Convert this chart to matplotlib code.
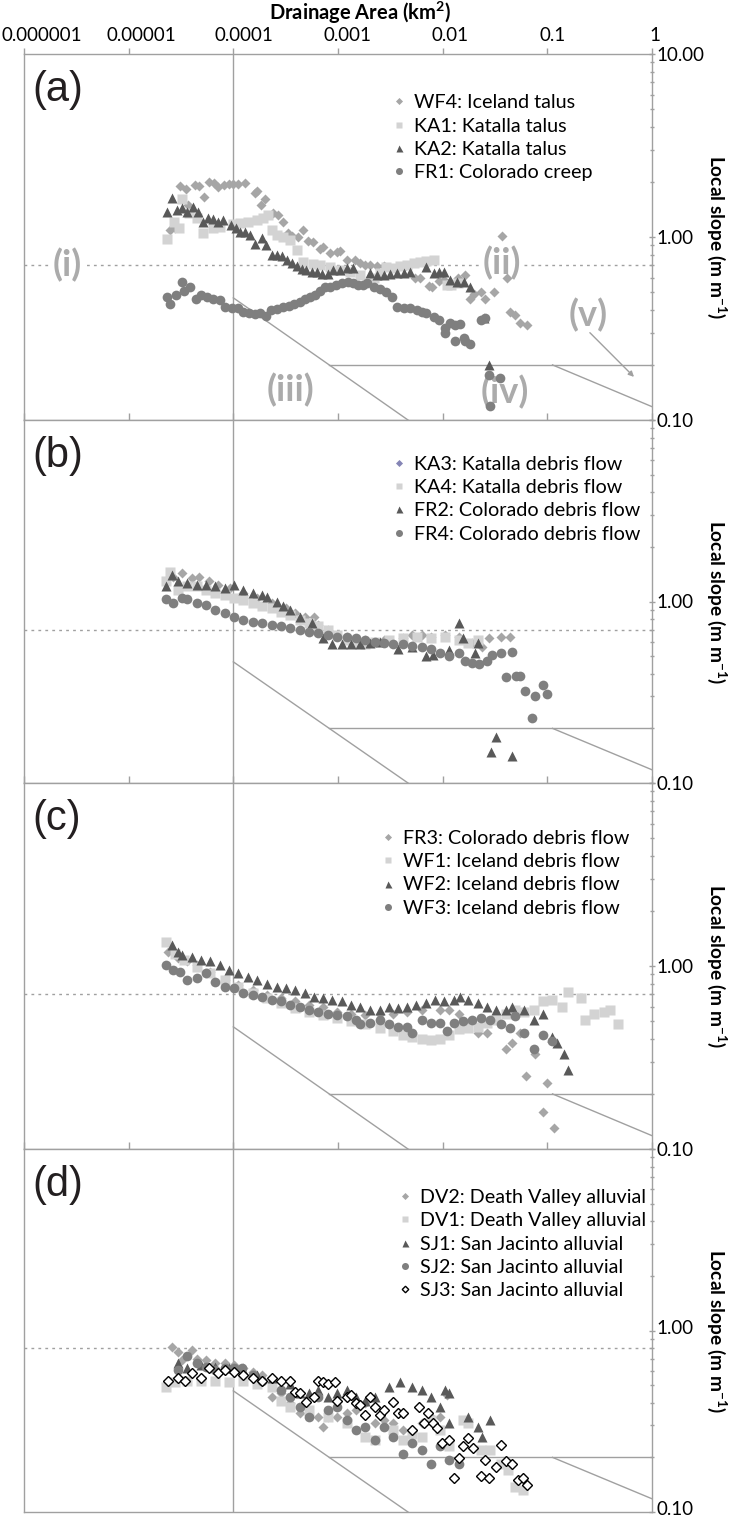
import matplotlib
matplotlib.use('Agg')
import matplotlib.pyplot as plt
from matplotlib.lines import Line2D
from matplotlib.transforms import ScaledTranslation
from matplotlib.ticker import LogLocator, NullFormatter, FixedLocator, FixedFormatter
import numpy as np

plt.rcParams['mathtext.fontset'] = 'custom'
plt.rcParams['mathtext.rm'] = 'Lato'
plt.rcParams['mathtext.bf'] = 'Lato:bold'
plt.rcParams['font.family'] = ['Lato', 'DejaVu Sans']

# ---------------- data: panel (a) ----------------
wf4_area = [2.48e-5, 2.77e-5, 3.09e-5, 3.5e-5, 3.69e-5, 4.3e-5, 4.7e-5, 5.2e-5, 5.85e-5, 6.6e-5, 7.2e-5, 8.1e-5, 9.0e-5, 9.9e-5, 1.1e-4, 1.29e-4, 1.61e-4, 1.7e-4, 1.84e-4, 2.0e-4, 2.4e-4, 2.65e-4, 2.98e-4, 3.33e-4, 3.6e-4, 4.15e-4, 4.6e-4, 5.2e-4, 5.8e-4, 6.7e-4, 7.2e-4, 8.4e-4, 9.8e-4, 1.04e-3, 1.22e-3, 1.45e-3, 1.62e-3, 1.81e-3, 2.02e-3, 2.37e-3, 2.76e-3, 3.14e-3, 3.67e-3, 4.3e-3, 5.4e-3, 6.1e-3, 7.4e-3, 7.9e-3, 9.2e-3, 1.04e-2, 1.17e-2, 1.4e-2, 1.64e-2, 1.83e-2, 2.0e-2, 2.3e-2, 2.56e-2, 3.1e-2, 3.65e-2, 4.1e-2, 4.4e-2, 4.9e-2, 5.5e-2, 6.4e-2]
wf4_slope = [1.09, 1.12, 1.90, 1.82, 1.50, 1.92, 1.90, 1.65, 2.0, 1.97, 1.88, 1.92, 1.95, 1.95, 1.95, 1.97, 1.74, 1.78, 1.50, 1.61, 1.35, 1.32, 1.21, 1.05, 1.01, 1.0, 1.09, 0.95, 0.94, 0.86, 0.88, 0.82, 0.83, 0.84, 0.75, 0.75, 0.72, 0.70, 0.70, 0.69, 0.69, 0.68, 0.68, 0.685, 0.60, 0.60, 0.54, 0.53, 0.575, 0.58, 0.57, 0.60, 0.62, 0.46, 0.49, 0.50, 0.46, 0.50, 1.01, 0.60, 0.39, 0.375, 0.34, 0.33]

ka1_area = [2.32e-5, 2.7e-5, 3.0e-5, 3.23e-5, 3.8e-5, 4.5e-5, 5.13e-5, 6.4e-5, 7.4e-5, 9.9e-5, 1.16e-4, 1.38e-4, 1.7e-4, 1.93e-4, 2.15e-4, 2.34e-4, 2.6e-4, 2.98e-4, 3.48e-4, 4.06e-4, 4.6e-4, 5.8e-4, 6.7e-4, 8.4e-4, 1.04e-3, 1.3e-3, 1.62e-3, 2.2e-3, 2.5e-3, 2.9e-3, 3.4e-3, 3.94e-3, 4.56e-3, 5.3e-3, 6.1e-3, 7.0e-3, 8.3e-3, 1.1e-2, 1.2e-2, 1.4e-2]
ka1_slope = [0.975, 1.21, 1.12, 1.61, 1.35, 1.27, 1.05, 1.12, 1.13, 1.18, 1.19, 1.21, 1.24, 1.27, 1.32, 1.09, 1.025, 1.0, 0.96, 0.85, 0.73, 0.71, 0.70, 0.685, 0.66, 0.64, 0.62, 0.60, 0.635, 0.685, 0.68, 0.69, 0.70, 0.72, 0.73, 0.74, 0.75, 0.55, 0.55, 0.56]

ka2_area = [2.32e-5, 2.6e-5, 2.9e-5, 3.23e-5, 3.6e-5, 4.12e-5, 4.6e-5, 5.13e-5, 5.7e-5, 6.4e-5, 7.1e-5, 8.0e-5, 9.4e-5, 1.05e-4, 1.16e-4, 1.29e-4, 1.44e-4, 1.61e-4, 1.88e-4, 2.05e-4, 2.34e-4, 2.6e-4, 2.9e-4, 3.25e-4, 3.6e-4, 4.06e-4, 4.5e-4, 5.0e-4, 5.6e-4, 6.3e-4, 7.0e-4, 8.0e-4, 8.9e-4, 1.04e-3, 1.22e-3, 1.39e-3, 2.02e-3, 2.37e-3, 2.76e-3, 3.14e-3, 3.67e-3, 4.3e-3, 4.9e-3, 7.0e-3, 8.3e-3, 9.2e-3, 1.04e-2, 1.17e-2, 1.36e-2, 1.6e-2, 1.83e-2, 2.5e-2, 2.8e-2]
ka2_slope = [1.37, 1.63, 1.40, 1.44, 1.37, 1.46, 1.37, 1.21, 1.27, 1.25, 1.21, 1.24, 1.16, 1.12, 1.06, 1.06, 1.025, 0.92, 0.99, 0.90, 0.80, 0.80, 0.79, 0.75, 0.72, 0.69, 0.67, 0.66, 0.64, 0.645, 0.63, 0.63, 0.66, 0.66, 0.68, 0.68, 0.635, 0.62, 0.62, 0.63, 0.635, 0.635, 0.645, 0.685, 0.635, 0.645, 0.645, 0.58, 0.57, 0.57, 0.53, 0.36, 0.20]

fr1_area = [2.3e-5, 2.48e-5, 2.85e-5, 3.23e-5, 3.4e-5, 3.85e-5, 4.4e-5, 4.9e-5, 5.6e-5, 6.4e-5, 7.4e-5, 8.3e-5, 9.7e-5, 1.1e-4, 1.23e-4, 1.41e-4, 1.61e-4, 1.8e-4, 2.05e-4, 2.3e-4, 2.6e-4, 2.98e-4, 3.4e-4, 3.8e-4, 4.3e-4, 4.8e-4, 5.4e-4, 6.0e-4, 6.7e-4, 7.5e-4, 8.4e-4, 9.5e-4, 1.09e-3, 1.24e-3, 1.39e-3, 1.55e-3, 1.73e-3, 1.9e-3, 2.2e-3, 2.5e-3, 2.9e-3, 3.25e-3, 3.67e-3, 4.3e-3, 4.9e-3, 5.7e-3, 6.3e-3, 7.0e-3, 8.3e-3, 9.2e-3, 1.06e-2, 1.17e-2, 1.06e-2, 1.3e-2, 1.46e-2, 1.6e-2, 1.3e-2, 1.64e-2, 1.83e-2, 2.3e-2, 2.56e-2, 2.8e-2, 3.5e-2, 2.85e-2]
fr1_slope = [0.47, 0.43, 0.48, 0.57, 0.51, 0.53, 0.46, 0.48, 0.47, 0.46, 0.45, 0.415, 0.41, 0.41, 0.39, 0.385, 0.38, 0.385, 0.37, 0.40, 0.405, 0.415, 0.42, 0.43, 0.44, 0.46, 0.47, 0.48, 0.51, 0.53, 0.53, 0.55, 0.56, 0.57, 0.56, 0.55, 0.55, 0.56, 0.53, 0.52, 0.50, 0.47, 0.415, 0.41, 0.41, 0.40, 0.39, 0.385, 0.365, 0.35, 0.32, 0.34, 0.30, 0.33, 0.335, 0.28, 0.27, 0.27, 0.26, 0.35, 0.36, 0.176, 0.17, 0.12]

# ---------------- data: panel (b) ----------------
ka3_area = [2.67e-5, 3.2e-5, 4.0e-5, 4.7e-5, 5.8e-5, 7.1e-5, 9.2e-5, 1.25e-4, 1.7e-4, 2.32e-4, 3.2e-4, 3.9e-4, 4.8e-4, 5.9e-4, 6.5e-4, 8.0e-4, 1.21e-3, 1.82e-3, 2.75e-3, 4.16e-3, 5.1e-3, 6.3e-3, 7.7e-3, 1.05e-2, 1.43e-2, 1.9e-2, 2.35e-2, 2.75e-2, 3.6e-2, 4.4e-2]
ka3_slope = [1.37, 1.43, 1.34, 1.37, 1.29, 1.23, 1.18, 1.11, 1.04, 0.98, 0.92, 0.86, 0.82, 0.82, 0.74, 0.70, 0.64, 0.61, 0.61, 0.63, 0.65, 0.65, 0.64, 0.65, 0.64, 0.59, 0.56, 0.63, 0.64, 0.64]

ka4_area = [2.29e-5, 2.5e-5, 2.96e-5, 3.64e-5, 4.47e-5, 5.5e-5, 6.75e-5, 8.3e-5, 1.02e-4, 1.25e-4, 1.54e-4, 1.89e-4, 2.32e-4, 2.86e-4, 3.51e-4, 4.32e-4, 5.3e-4, 6.5e-4, 8.0e-4, 9.8e-4, 1.21e-3, 1.48e-3, 1.82e-3, 2.24e-3, 3.05e-3, 4.16e-3, 5.7e-3, 7.7e-3, 1.05e-2, 1.43e-2, 1.76e-2, 2.16e-2]
ka4_slope = [1.29, 1.46, 1.16, 1.21, 1.21, 1.16, 1.11, 1.09, 1.04, 1.02, 0.98, 0.94, 0.92, 0.88, 0.84, 0.79, 0.76, 0.73, 0.70, 0.65, 0.61, 0.59, 0.58, 0.60, 0.61, 0.63, 0.64, 0.63, 0.64, 0.61, 0.59, 0.61]

fr2_area = [2.29e-5, 2.6e-5, 2.96e-5, 3.64e-5, 4.47e-5, 5.5e-5, 6.75e-5, 8.3e-5, 1.02e-4, 1.25e-4, 1.54e-4, 1.89e-4, 2.1e-4, 2.6e-4, 3.0e-4, 3.51e-4, 4.32e-4, 5.6e-4, 7.2e-4, 8.8e-4, 1.09e-3, 1.33e-3, 1.64e-3, 2.0e-3, 2.5e-3, 3.75e-3, 5.1e-3, 6.9e-3, 8.1e-3, 1.16e-2, 1.43e-2, 1.58e-2, 2.05e-2, 2.16e-2, 2.9e-2, 3.26e-2, 4.6e-2]
fr2_slope = [1.21, 1.40, 1.29, 1.26, 1.23, 1.23, 1.21, 1.18, 1.23, 1.16, 1.11, 1.09, 1.06, 1.0, 0.94, 0.90, 0.82, 0.76, 0.63, 0.58, 0.58, 0.58, 0.58, 0.59, 0.60, 0.55, 0.56, 0.50, 0.51, 0.54, 0.76, 0.63, 0.52, 0.59, 0.149, 0.18, 0.14]

fr4_area = [2.29e-5, 2.67e-5, 3.2e-5, 3.64e-5, 4.47e-5, 5.5e-5, 6.75e-5, 8.3e-5, 1.02e-4, 1.25e-4, 1.54e-4, 1.89e-4, 2.32e-4, 2.86e-4, 3.51e-4, 4.32e-4, 5.3e-4, 6.5e-4, 8.0e-4, 9.8e-4, 1.21e-3, 1.48e-3, 1.82e-3, 2.24e-3, 2.75e-3, 3.38e-3, 4.16e-3, 5.1e-3, 6.3e-3, 7.7e-3, 9.5e-3, 1.16e-2, 1.43e-2, 1.65e-2, 1.9e-2, 2.2e-2, 2.65e-2, 2.95e-2, 3.6e-2, 4.6e-2, 4.0e-2, 5.0e-2, 5.5e-2, 6.1e-2, 7.7e-2, 9.1e-2, 1.0e-1, 7.2e-2]
fr4_slope = [1.03, 0.98, 1.04, 1.03, 0.98, 0.96, 0.90, 0.86, 0.82, 0.79, 0.77, 0.76, 0.74, 0.73, 0.71, 0.70, 0.68, 0.67, 0.65, 0.64, 0.64, 0.63, 0.61, 0.60, 0.59, 0.585, 0.58, 0.57, 0.56, 0.55, 0.52, 0.50, 0.52, 0.47, 0.46, 0.45, 0.47, 0.51, 0.52, 0.53, 0.385, 0.39, 0.39, 0.32, 0.30, 0.347, 0.31, 0.227]

# ---------------- data: panel (c) ----------------
fr3_area = [2.4e-5, 2.96e-5, 3.64e-5, 4.47e-5, 6.0e-5, 8.3e-5, 1.12e-4, 1.54e-4, 2.1e-4, 2.86e-4, 3.9e-4, 5.3e-4, 7.2e-4, 9.8e-4, 1.33e-3, 1.82e-3, 2.5e-3, 3.38e-3, 4.6e-3, 6.3e-3, 9.5e-3, 1.16e-2, 1.43e-2, 1.76e-2, 2.16e-2, 2.65e-2, 4.0e-2, 4.6e-2, 5.5e-2, 7.7e-2, 6.3e-2, 9.9e-2, 9.1e-2, 0.117]
fr3_slope = [1.20, 1.10, 1.06, 1.01, 0.93, 0.84, 0.79, 0.74, 0.695, 0.665, 0.64, 0.61, 0.60, 0.56, 0.55, 0.54, 0.55, 0.55, 0.56, 0.575, 0.575, 0.575, 0.55, 0.486, 0.43, 0.43, 0.35, 0.38, 0.43, 0.33, 0.25, 0.23, 0.16, 0.13]

wf1_area = [2.29e-5, 2.8e-5, 3.4e-5, 4.47e-5, 6.0e-5, 8.3e-5, 1.12e-4, 1.54e-4, 2.1e-4, 2.86e-4, 3.9e-4, 5.3e-4, 7.2e-4, 9.8e-4, 1.33e-3, 1.82e-3, 2.5e-3, 3.38e-3, 4.16e-3, 5.1e-3, 6.3e-3, 7.7e-3, 9.5e-3, 1.16e-2, 1.43e-2, 1.76e-2, 2.16e-2, 2.65e-2, 3.26e-2, 4.0e-2, 4.9e-2, 6.05e-2, 7.4e-2, 9.1e-2, 0.112, 0.138, 0.158, 0.208, 0.23, 0.28, 0.345, 0.40, 0.475]
wf1_slope = [1.36, 1.17, 1.08, 0.99, 0.91, 0.84, 0.77, 0.71, 0.665, 0.625, 0.59, 0.56, 0.54, 0.52, 0.50, 0.48, 0.46, 0.44, 0.42, 0.41, 0.40, 0.395, 0.40, 0.42, 0.45, 0.46, 0.466, 0.486, 0.51, 0.55, 0.575, 0.56, 0.575, 0.64, 0.65, 0.60, 0.72, 0.665, 0.51, 0.55, 0.56, 0.575, 0.48]

wf2_area = [2.6e-5, 2.96e-5, 3.2e-5, 4.0e-5, 4.9e-5, 6.0e-5, 7.4e-5, 9.1e-5, 1.12e-4, 1.39e-4, 1.7e-4, 2.1e-4, 2.6e-4, 3.2e-4, 3.9e-4, 4.8e-4, 5.9e-4, 7.2e-4, 8.8e-4, 1.09e-3, 1.33e-3, 1.64e-3, 2.0e-3, 2.5e-3, 3.05e-3, 3.75e-3, 4.6e-3, 5.6e-3, 6.9e-3, 8.4e-3, 1.03e-2, 1.27e-2, 1.47e-2, 1.76e-2, 2.16e-2, 2.65e-2, 3.26e-2, 4.0e-2, 4.6e-2, 6.05e-2, 7.4e-2, 9.1e-2, 0.112, 0.123, 0.143, 0.158]
wf2_slope = [1.30, 1.20, 1.15, 1.12, 1.08, 1.06, 1.01, 0.95, 0.91, 0.87, 0.84, 0.80, 0.77, 0.755, 0.74, 0.71, 0.68, 0.665, 0.65, 0.64, 0.61, 0.60, 0.575, 0.575, 0.60, 0.59, 0.60, 0.61, 0.625, 0.65, 0.64, 0.65, 0.68, 0.65, 0.625, 0.60, 0.575, 0.575, 0.60, 0.575, 0.51, 0.55, 0.41, 0.38, 0.33, 0.27]

wf3_area = [2.29e-5, 2.67e-5, 3.1e-5, 3.64e-5, 4.47e-5, 5.5e-5, 6.75e-5, 8.3e-5, 1.02e-4, 1.25e-4, 1.54e-4, 1.89e-4, 2.32e-4, 2.86e-4, 3.51e-4, 4.32e-4, 5.3e-4, 6.5e-4, 8.0e-4, 9.8e-4, 1.21e-3, 1.48e-3, 1.64e-3, 2.0e-3, 2.5e-3, 3.05e-3, 3.75e-3, 4.6e-3, 5.1e-3, 6.3e-3, 7.7e-3, 9.5e-3, 1.1e-2, 1.27e-2, 1.55e-2, 1.9e-2, 2.3e-2, 2.85e-2, 3.6e-2, 4.4e-2, 4.9e-2, 6.05e-2, 7.4e-2, 9.1e-2, 0.112]
wf3_slope = [1.01, 0.95, 0.93, 0.84, 0.86, 0.91, 0.82, 0.77, 0.755, 0.71, 0.695, 0.68, 0.65, 0.64, 0.61, 0.60, 0.575, 0.56, 0.55, 0.54, 0.53, 0.51, 0.48, 0.486, 0.51, 0.48, 0.466, 0.466, 0.43, 0.51, 0.486, 0.486, 0.44, 0.486, 0.50, 0.51, 0.52, 0.51, 0.48, 0.46, 0.53, 0.43, 0.35, 0.42, 0.39]

# ---------------- data: panel (d) ----------------
dv2_area = [2.6e-5, 2.96e-5, 3.2e-5, 4.0e-5, 4.47e-5, 5.5e-5, 6.75e-5, 8.3e-5, 1.02e-4, 1.25e-4, 1.54e-4, 1.89e-4, 2.32e-4, 2.86e-4, 3.51e-4, 4.32e-4, 5.3e-4, 6.5e-4, 7.2e-4, 8.0e-4, 9.8e-4, 1.21e-3, 1.48e-3, 1.82e-3, 2.24e-3, 2.75e-3, 3.38e-3, 4.16e-3, 5.1e-3, 6.3e-3, 7.7e-3, 9.5e-3, 1.1e-2]
dv2_slope = [0.815, 0.765, 0.69, 0.78, 0.70, 0.69, 0.66, 0.66, 0.645, 0.62, 0.594, 0.57, 0.43, 0.45, 0.40, 0.35, 0.343, 0.335, 0.295, 0.335, 0.335, 0.35, 0.365, 0.40, 0.31, 0.32, 0.31, 0.283, 0.283, 0.31, 0.335, 0.335, 0.44]

dv1_area = [2.29e-5, 2.8e-5, 3.64e-5, 4.9e-5, 6.75e-5, 9.1e-5, 1.25e-4, 1.7e-4, 2.32e-4, 2.86e-4, 3.51e-4, 5.3e-4, 8.0e-4, 1.21e-3, 1.82e-3, 2.24e-3, 3.38e-3, 4.16e-3, 5.1e-3, 6.3e-3, 7.7e-3, 9.5e-3, 1.16e-2, 1.58e-2, 1.76e-2, 2.3e-2, 2.85e-2, 3.6e-2, 4.2e-2, 4.9e-2, 5.8e-2]
dv1_slope = [0.49, 0.52, 0.53, 0.53, 0.53, 0.52, 0.53, 0.51, 0.49, 0.41, 0.38, 0.365, 0.335, 0.31, 0.26, 0.25, 0.283, 0.25, 0.27, 0.26, 0.32, 0.283, 0.23, 0.32, 0.31, 0.22, 0.22, 0.185, 0.17, 0.138, 0.133]

sj1_area = [2.96e-5, 3.64e-5, 4.9e-5, 6.75e-5, 9.1e-5, 1.25e-4, 1.7e-4, 2.32e-4, 3.51e-4, 4.32e-4, 5.3e-4, 6.5e-4, 8.0e-4, 9.8e-4, 1.21e-3, 1.48e-3, 1.82e-3, 2.24e-3, 3.05e-3, 3.9e-3, 5.1e-3, 6.3e-3, 7.7e-3, 1.05e-2, 1.16e-2, 9.5e-3, 1.16e-2, 1.76e-2, 2.16e-2, 2.35e-2, 2.85e-2]
sj1_slope = [0.66, 0.62, 0.645, 0.63, 0.62, 0.605, 0.57, 0.545, 0.51, 0.45, 0.45, 0.47, 0.43, 0.45, 0.47, 0.43, 0.41, 0.43, 0.49, 0.52, 0.49, 0.47, 0.43, 0.47, 0.45, 0.38, 0.31, 0.335, 0.295, 0.26, 0.32]

sj2_area = [2.96e-5, 3.64e-5, 4.47e-5, 5.5e-5, 6.75e-5, 8.3e-5, 1.02e-4, 1.2e-4, 1.54e-4, 1.89e-4, 2.86e-4, 3.51e-4, 4.32e-4, 5.3e-4, 6.5e-4, 8.0e-4, 9.8e-4, 1.21e-3, 1.48e-3, 1.82e-3, 2.24e-3, 2.75e-3, 3.38e-3, 4.16e-3, 5.1e-3, 6.3e-3, 7.7e-3, 9.5e-3, 1.16e-2, 1.43e-2]
sj2_slope = [0.605, 0.72, 0.66, 0.63, 0.605, 0.62, 0.62, 0.62, 0.57, 0.53, 0.47, 0.43, 0.38, 0.335, 0.43, 0.365, 0.38, 0.32, 0.283, 0.295, 0.25, 0.295, 0.26, 0.21, 0.24, 0.22, 0.185, 0.23, 0.194, 0.185]

sj3_area = [2.4e-5, 2.96e-5, 3.45e-5, 4.0e-5, 4.9e-5, 5.8e-5, 7.1e-5, 8.3e-5, 1.02e-4, 1.25e-4, 1.54e-4, 1.89e-4, 2.32e-4, 2.86e-4, 3.51e-4, 3.9e-4, 4.32e-4, 5.0e-4, 5.85e-4, 6.5e-4, 7.2e-4, 8.0e-4, 9.3e-4, 9.8e-4, 1.21e-3, 1.33e-3, 1.48e-3, 1.64e-3, 1.82e-3, 2.0e-3, 2.24e-3, 2.5e-3, 2.75e-3, 3.38e-3, 3.75e-3, 4.16e-3, 5.1e-3, 6.0e-3, 6.6e-3, 7.3e-3, 8.1e-3, 8.9e-3, 9.9e-3, 1.16e-2, 1.29e-2, 1.43e-2, 1.58e-2, 1.76e-2, 1.95e-2, 2.3e-2, 2.55e-2, 2.8e-2, 3.26e-2, 3.6e-2, 4.0e-2, 4.6e-2, 5.2e-2, 5.8e-2, 6.4e-2]
sj3_slope = [0.53, 0.545, 0.53, 0.58, 0.545, 0.62, 0.58, 0.605, 0.594, 0.57, 0.545, 0.53, 0.545, 0.53, 0.53, 0.46, 0.45, 0.405, 0.43, 0.53, 0.52, 0.51, 0.52, 0.41, 0.43, 0.44, 0.40, 0.39, 0.343, 0.43, 0.38, 0.343, 0.365, 0.405, 0.35, 0.35, 0.283, 0.38, 0.31, 0.35, 0.31, 0.29, 0.24, 0.25, 0.153, 0.198, 0.23, 0.255, 0.225, 0.157, 0.194, 0.153, 0.178, 0.235, 0.19, 0.185, 0.15, 0.153, 0.141]

x_tick_values = [1e-6, 1e-5, 1e-4, 1e-3, 1e-2, 1e-1, 1]
x_tick_labels = ['0.000001', '0.00001', '0.0001', '0.001', '0.01', '0.1', '1']
y_tick_values = [0.1, 1, 10]
y_tick_labels = ['0.10', '1.00', '10.00']
panel_letters = ['(a)', '(b)', '(c)', '(d)']
threshold_slopes = [0.7, 0.7, 0.7, 0.8]

# ---------------- styles ----------------
GRAY = '#a0a0a0'
LBL = '#ababab'
sty = {
    'dia': dict(marker='D', ms=5.0, color='#a6a6a6', mec='none'),
    'sq': dict(marker='s', ms=6.6, color='#d3d3d3', mec='none'),
    'tri': dict(marker='^', ms=7.0, color='#595959', mec='none'),
    'cir': dict(marker='o', ms=7.0, color='#7f7f7f', mec='none'),
    'odia': dict(marker='D', ms=4.6, mfc='white', mec='black', mew=1.0),
}

panels = [
    [('WF4: Iceland talus', wf4_area, wf4_slope, 'dia'),
     ('KA1: Katalla talus', ka1_area, ka1_slope, 'sq'),
     ('KA2: Katalla talus', ka2_area, ka2_slope, 'tri'),
     ('FR1: Colorado creep', fr1_area, fr1_slope, 'cir')],
    [('KA3: Katalla debris flow', ka3_area, ka3_slope, 'dia'),
     ('KA4: Katalla debris flow', ka4_area, ka4_slope, 'sq'),
     ('FR2: Colorado debris flow', fr2_area, fr2_slope, 'tri'),
     ('FR4: Colorado debris flow', fr4_area, fr4_slope, 'cir')],
    [('FR3: Colorado debris flow', fr3_area, fr3_slope, 'dia'),
     ('WF1: Iceland debris flow', wf1_area, wf1_slope, 'sq'),
     ('WF2: Iceland debris flow', wf2_area, wf2_slope, 'tri'),
     ('WF3: Iceland debris flow', wf3_area, wf3_slope, 'cir')],
    [('DV2: Death Valley alluvial', dv2_area, dv2_slope, 'dia'),
     ('DV1: Death Valley alluvial', dv1_area, dv1_slope, 'sq'),
     ('SJ1: San Jacinto alluvial', sj1_area, sj1_slope, 'tri'),
     ('SJ2: San Jacinto alluvial', sj2_area, sj2_slope, 'cir'),
     ('SJ3: San Jacinto alluvial', sj3_area, sj3_slope, 'odia')],
]

W, H = 734, 1515
fig = plt.figure(figsize=(W / 100, H / 100), dpi=100)
XL, XR = 24, 652
panel_px = [(54, 420), (420, 783), (783, 1149), (1149, 1512)]
legend_anchor = [(0.588, 0.890), (0.588, 0.902), (0.57, 0.872), (0.598, 0.890)]
xlabel_dx = [18, 13, 11, 9, 7, 5, 3]

for i, (top, bot) in enumerate(panel_px):
    ax = fig.add_axes([XL / W, 1 - bot / H, (XR - XL) / W, (bot - top) / H])
    ax.set_xscale('log')
    ax.set_yscale('log')
    ax.set_xlim(1e-6, 1)
    ax.set_ylim(0.1, 10)
    for sp in ax.spines.values():
        sp.set_color(GRAY)
        sp.set_linewidth(1.0)

    # reference lines
    ax.axvline(1e-4, color=GRAY, lw=1.0, zorder=1)
    ax.axhline(threshold_slopes[i], color=GRAY, lw=1.0, ls=(0, (2, 3)), zorder=1)
    s0, theta = 0.465, 0.4
    a_line = np.logspace(-4, 0, 200)
    ax.plot(a_line, s0 * (a_line / 1e-4) ** (-theta), color=GRAY, lw=1.0, zorder=1)
    a_int = 1e-4 * (0.2 / s0) ** (-1 / theta)
    ax.plot([a_int, 1], [0.2, 0.2], color=GRAY, lw=1.0, zorder=1)
    a_v = np.logspace(np.log10(0.112), 0, 50)
    ax.plot(a_v, 0.2 * (a_v / 0.112) ** (-0.24), color=GRAY, lw=1.0, zorder=1)

    handles = []
    for k, (lab, a, s, st) in enumerate(panels[i]):
        ax.plot(a, s, ls='none', zorder=3 + k, **sty[st])
        hs = dict(sty[st])
        hs['ms'] = hs['ms'] * 0.72
        if i == 1 and st == 'dia':
            hs['color'] = '#8585b5'
        handles.append(Line2D([], [], ls='none', **hs))
    ax.legend(handles, [p[0] for p in panels[i]], loc='upper left',
              bbox_to_anchor=legend_anchor[i], frameon=False,
              handlelength=0.6, handletextpad=0.45, labelspacing=0.32,
              borderaxespad=0, borderpad=0, prop={'family': 'Lato', 'size': 14.2})

    # ticks
    ax.yaxis.tick_right()
    ax.yaxis.set_major_locator(FixedLocator(y_tick_values))
    ylabs = list(y_tick_labels) if i == 0 else ['0.10', '1.00', '']
    ax.yaxis.set_major_formatter(FixedFormatter(ylabs))
    ax.yaxis.set_minor_locator(LogLocator(base=10, subs=np.arange(2, 10)))
    ax.yaxis.set_minor_formatter(NullFormatter())
    ax.tick_params(axis='y', which='major', direction='inout', length=5, width=1,
                   color=GRAY, labelsize=13.5, pad=1, right=True, left=False)
    ax.tick_params(axis='y', which='minor', direction='inout', length=3.5, width=1,
                   color=GRAY, right=True, left=False)
    ax.xaxis.set_major_locator(FixedLocator(x_tick_values))
    ax.xaxis.set_minor_locator(FixedLocator([]))
    if i == 0:
        ax.xaxis.set_major_formatter(FixedFormatter(x_tick_labels))
        ax.tick_params(axis='x', which='major', top=True, bottom=False, labeltop=True,
                       labelbottom=False, direction='out', length=4, width=1,
                       color=GRAY, labelsize=13.5, pad=3)
        for t, dx in zip(ax.xaxis.get_major_ticks(), xlabel_dx):
            t.label2.set_transform(t.label2.get_transform() +
                                   ScaledTranslation(dx / 100, 0, fig.dpi_scale_trans))
    else:
        ax.xaxis.set_major_formatter(NullFormatter())
        ax.tick_params(axis='x', which='major', top=True, bottom=False,
                       labeltop=False, labelbottom=False, direction='out',
                       length=5, width=1, color=GRAY)
    if i == 3:
        for t in ax.yaxis.get_major_ticks():
            t.label2.set_transform(t.label2.get_transform() +
                                   ScaledTranslation(0, 4 / 100, fig.dpi_scale_trans))

    ax.text(0.013, 0.955, panel_letters[i], transform=ax.transAxes, fontsize=30,
            family='Liberation Sans', va='top', ha='left', color='#231f20')

    yc = (top + bot) / 2
    fig.text(717 / W, 1 - yc / H, r'Local slope (m m$^{\mathbf{-1}}$)', rotation=270,
             ha='center', va='center', fontsize=13.8, fontweight='bold')

    if i == 0:
        bb = dict(facecolor='white', edgecolor='none', pad=0.5)
        ax.text(2.6e-6, 0.70, '(i)', color=LBL, fontsize=26, fontweight='bold',
                ha='center', va='center', zorder=2, bbox=bb)
        ax.text(0.037, 0.72, '(ii)', color=LBL, fontsize=26, fontweight='bold',
                ha='center', va='center', zorder=2, bbox=bb)
        ax.text(3.5e-4, 0.146, '(iii)', color=LBL, fontsize=26, fontweight='bold',
                ha='center', va='center', zorder=2)
        ax.text(0.039, 0.143, '(iv)', color=LBL, fontsize=26, fontweight='bold',
                ha='center', va='center', zorder=2)
        ax.text(0.244, 0.375, '(v)', color=LBL, fontsize=26, fontweight='bold',
                ha='center', va='center', zorder=2)
        ax.annotate('', xy=(0.673, 0.172), xytext=(0.255, 0.30),
                    arrowprops=dict(arrowstyle='-|>', color=GRAY, lw=1.0,
                                    mutation_scale=8, shrinkA=0, shrinkB=0), zorder=2)

fig.text(360 / W, 1 - 13 / H, r'Drainage Area (km$^{\mathbf{2}}$)', ha='center', va='center',
         fontsize=14.5, fontweight='bold')

fig.savefig('out.png', dpi=100)
